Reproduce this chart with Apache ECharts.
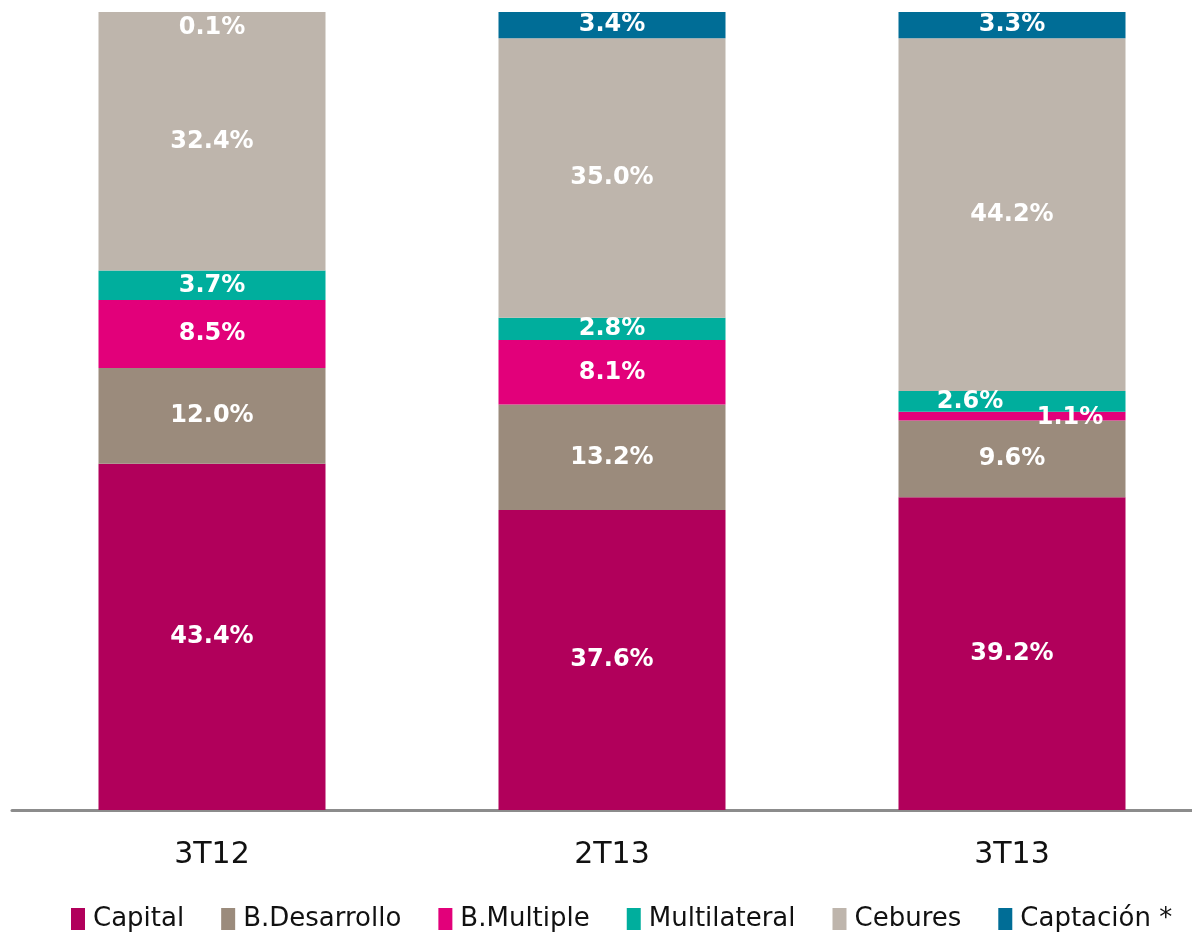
<!DOCTYPE html>
<html>
<head>
<meta charset="utf-8">
<script src="https://cdn.jsdelivr.net/npm/echarts@6/dist/echarts.min.js"></script>
<style>
  html, body { margin: 0; padding: 0; background: #fff; overflow: hidden; }
  /* el eje continúa más allá del borde derecho */
  #chart { width: 1212px; height: 933px; }
</style>
</head>
<body>
<div id="chart"></div>
<script>
// periodos
const categories = ["3T12", "2T13", "3T13"];
// participacion por fuente (%)
const capital = [43.4, 37.6, 39.2];
const desarrollo = [12.0, 13.2, 9.6];
const multiple = [8.5, 8.1, 1.1];
const multilateral = [3.7, 2.8, 2.6];
const cebures = [32.4, 35.0, 44.2];
const captacion = [0.1, 3.4, 3.3];

const seriesDefs = [
  { name: "Capital", data: capital, color: "#B1005B" },
  { name: "B.Desarrollo", data: desarrollo, color: "#9B8B7C" },
  { name: "B.Multiple", data: multiple, color: "#E2007A" },
  { name: "Multilateral", data: multilateral, color: "#00AE9D" },
  { name: "Cebures", data: cebures, color: "#BEB5AC" },
  { name: "Captación *", data: captacion, color: "#006D96" }
];

// etiquetas que no caben en su segmento
const labelOffsets = {
  "Captación *": { 0: [0, 16] },
  "Multilateral": { 2: [-42, 0] },
  "B.Multiple": { 2: [58, 2] }
};

const chart = echarts.init(document.getElementById("chart"));

const series = seriesDefs.map(s => ({
  name: s.name,
  type: "bar",
  stack: "total",
  barWidth: 227,
  itemStyle: { color: s.color },
  label: {
    show: true,
    position: "inside",
    color: "#fff",
    fontFamily: "DejaVu Sans",
    fontWeight: "bold",
    fontSize: 24,
    formatter: p => p.value.toFixed(1) + "%"
  },
  data: s.data.map((v, i) => {
    const off = labelOffsets[s.name] && labelOffsets[s.name][i];
    return off ? { value: v, label: { offset: off } } : v;
  })
}));

const option = {
  animation: false,
  color: seriesDefs.map(s => s.color),
  grid: { left: 12, right: 0, top: 12, bottom: 123 },
  legend: {
    top: 901,
    left: 66,
    itemWidth: 14,
    itemHeight: 22,
    itemGap: 37,
    icon: "rect",
    textStyle: { fontFamily: "DejaVu Sans", fontSize: 26, color: "#111", padding: [0, 0, 0, 3] },
    data: seriesDefs.map(s => s.name)
  },
  xAxis: {
    type: "category",
    data: categories,
    axisLine: { lineStyle: { color: "#8c8c8c", width: 3 } },
    axisTick: { show: false },
    axisLabel: { fontFamily: "DejaVu Sans", fontSize: 30, color: "#111", margin: 30 }
  },
  yAxis: {
    type: "value",
    min: 0,
    max: 100,
    show: false
  },
  series
};

chart.setOption(option);
</script>
</body>
</html>
